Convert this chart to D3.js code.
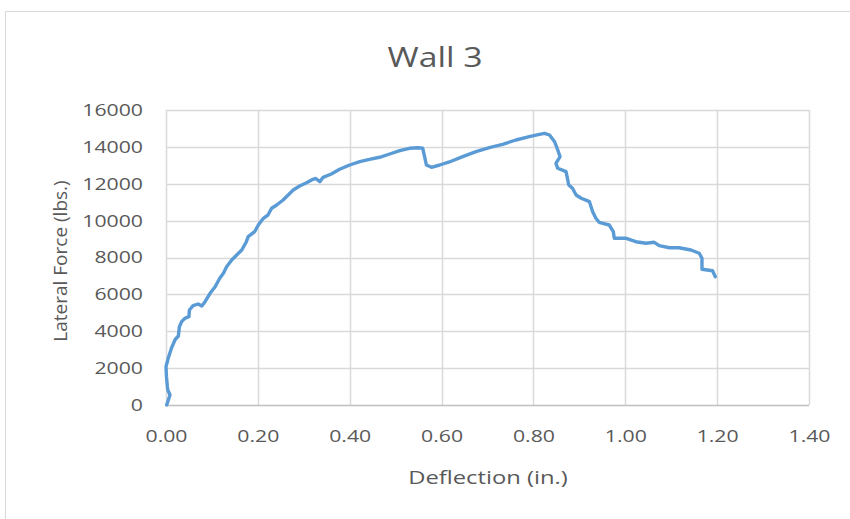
<!DOCTYPE html>
<html><head><meta charset="utf-8">
<script src="https://cdn.jsdelivr.net/npm/d3@7/dist/d3.min.js"></script>
<style>
html,body{margin:0;padding:0;background:#fff;}
svg{display:block;}
text{font-family:"Open Sans",sans-serif;fill:#595959;}
</style></head>
<body>
<script>
const title = "Wall 3";
const xLabel = "Deflection (in.)";
const yLabel = "Lateral Force (lbs.)";
const xTicks = [0, 0.2, 0.4, 0.6, 0.8, 1.0, 1.2, 1.4];
const yTicks = [0, 2000, 4000, 6000, 8000, 10000, 12000, 14000, 16000];
const deflection = [0.0015,0.0087,0.004,0.003,0.001,0,0.005,0.012,0.020,0.027,0.029,0.034,0.041,0.050,0.051,0.059,0.070,0.078,0.085,0.096,0.107,0.117,0.125,0.132,0.143,0.154,0.165,0.175,0.179,0.193,0.201,0.212,0.222,0.230,0.241,0.255,0.266,0.277,0.291,0.306,0.320,0.326,0.335,0.342,0.360,0.378,0.400,0.422,0.443,0.465,0.487,0.509,0.530,0.548,0.559,0.563,0.567,0.578,0.596,0.617,0.646,0.675,0.704,0.733,0.762,0.791,0.813,0.824,0.835,0.846,0.853,0.858,0.849,0.853,0.871,0.877,0.885,0.893,0.904,0.922,0.929,0.936,0.943,0.965,0.974,0.976,1.002,1.023,1.045,1.063,1.074,1.096,1.117,1.143,1.161,1.167,1.167,1.190,1.196];
const force = [0,542,814,993,1535,2077,2549,3092,3553,3742,4230,4518,4702,4789,5152,5386,5478,5369,5603,6058,6416,6872,7143,7501,7864,8136,8407,8857,9128,9399,9763,10126,10305,10669,10848,11119,11390,11661,11878,12057,12241,12285,12111,12350,12529,12784,13017,13196,13326,13435,13614,13793,13923,13955,13923,13467,13017,12892,13017,13180,13467,13738,13955,14140,14373,14552,14682,14736,14644,14281,13830,13467,13109,12838,12654,11932,11753,11390,11211,11027,10484,10126,9909,9763,9399,9041,9041,8857,8770,8825,8640,8531,8531,8407,8228,7957,7360,7284,6959];

const W = 850, H = 519;
const SX = 1.25; // horizontal stretch of the reference's text
const svg = d3.select("body").append("svg").attr("width", W).attr("height", H);

// outer chart frame
svg.append("rect").attr("x", 5.5).attr("y", 11.5).attr("width", 900).attr("height", 600)
  .attr("fill", "#fff").attr("stroke", "#d9d9d9").attr("stroke-width", 1);

const x = d3.scaleLinear().domain([0, 1.4]).range([166, 809]);
const y = d3.scaleLinear().domain([0, 16000]).range([405, 110]);

// gridlines
const g = svg.append("g");
g.selectAll("line.h").data(yTicks.filter(d => d > 0)).enter().append("line")
  .attr("x1", x(0)).attr("x2", x(1.4)).attr("y1", d => Math.round(y(d)) + 0.5).attr("y2", d => Math.round(y(d)) + 0.5)
  .attr("stroke", "#d9d9d9").attr("stroke-width", 1.5);
g.selectAll("line.v").data(xTicks).enter().append("line")
  .attr("y1", y(0)).attr("y2", y(16000)).attr("x1", d => Math.round(x(d)) + 0.5).attr("x2", d => Math.round(x(d)) + 0.5)
  .attr("stroke", "#d9d9d9").attr("stroke-width", 1.5);
// x axis line
svg.append("line").attr("x1", x(0)).attr("x2", x(1.4)).attr("y1", Math.round(y(0)) + 0.5).attr("y2", Math.round(y(0)) + 0.5)
  .attr("stroke", "#bfbfbf").attr("stroke-width", 1.5);

// axes (labels only)
const xAxis = d3.axisBottom(x).tickValues(xTicks).tickFormat(d3.format(".2f")).tickSize(0).tickPadding(25);
const gx = svg.append("g").attr("transform", `translate(0,${y(0)})`).call(xAxis);
gx.select(".domain").remove();
gx.selectAll("text").style("font-size", "17px").style("font-family", "'Open Sans',sans-serif")
  .attr("fill", "#595959").attr("transform", `scale(${SX},1)`);

const yAxis = d3.axisLeft(y).tickValues(yTicks).tickFormat(d3.format("d")).tickSize(0).tickPadding(18.4);
const gy = svg.append("g").attr("transform", `translate(${x(0)},0)`).call(yAxis);
gy.select(".domain").remove();
gy.selectAll("text").style("font-size", "17px").style("font-family", "'Open Sans',sans-serif")
  .attr("fill", "#595959").attr("transform", `scale(${SX},1)`);

// series
const pts = deflection.map((d, i) => [d, force[i]]);
svg.append("path").datum(pts)
  .attr("d", d3.line().x(d => x(d[0])).y(d => y(d[1])))
  .attr("fill", "none").attr("stroke", "#5b9bd5").attr("stroke-width", 3.4)
  .attr("stroke-linejoin", "round").attr("stroke-linecap", "round");

// titles
svg.append("text").attr("transform", `translate(435,67) scale(${SX},1)`).attr("text-anchor", "middle")
  .style("font-size", "27px").text(title);
svg.append("text").attr("transform", `translate(488,484) scale(${SX},1)`).attr("text-anchor", "middle")
  .style("font-size", "19px").text(xLabel);
svg.append("text").attr("transform", "translate(67,261) rotate(-90)").attr("text-anchor", "middle")
  .style("font-size", "19px").text(yLabel);
</script>
</body></html>
